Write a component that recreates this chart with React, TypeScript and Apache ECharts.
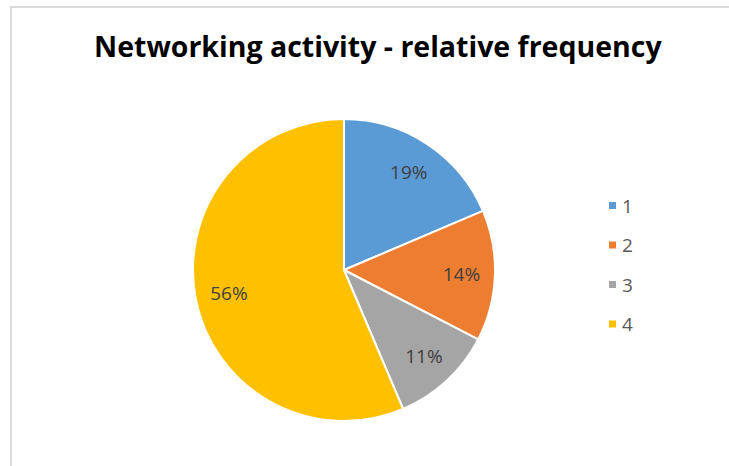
import React, { useEffect, useRef } from "react";
import * as echarts from "echarts";

const categories = ["1", "2", "3", "4"];
const shares = [18.6, 14.0, 11.0, 56.4];
const colors = ["#5B9BD5", "#ED7D31", "#A5A5A5", "#FFC000"];
const titleText = "Networking activity - relative frequency";

export default function App() {
  const ref = useRef<HTMLDivElement>(null);
  useEffect(() => {
    if (!ref.current) return;
    const chart = echarts.init(ref.current, null, { renderer: "svg" });
    const data = categories.map((c, i) => ({ name: c, value: shares[i] }));
    chart.setOption({
      animation: false,
      backgroundColor: "#ffffff",
      color: colors,
      title: {
        text: titleText,
        left: 89,
        top: 26,
        textStyle: {
          fontFamily: "Open Sans",
          fontWeight: "bold",
          fontSize: 28.5,
          color: "#000000",
        },
      },
      legend: {
        orient: "vertical",
        left: 602,
        top: 191,
        icon: "rect",
        itemWidth: 9,
        itemHeight: 9,
        itemGap: 20.5,
        data: categories,
        textStyle: {
          fontFamily: "Open Sans",
          fontSize: 19,
          color: "#595959",
          padding: [0, 0, 0, 0],
        },
      },
      graphic: [
        {
          type: "rect",
          shape: { x: 11, y: 7, width: 900, height: 600 },
          style: { fill: "none", stroke: "#d9d9d9", lineWidth: 2 },
          silent: true,
        },
      ],
      series: [
        {
          type: "pie",
          center: [344, 270],
          radius: [0, 151],
          startAngle: 90,
          clockwise: true,
          silent: true,
          label: { show: false },
          labelLine: { show: false },
          itemStyle: { borderColor: "#ffffff", borderWidth: 2 },
          data,
        },
        {
          type: "pie",
          center: [344, 270],
          radius: [78, 151],
          startAngle: 90,
          clockwise: true,
          silent: true,
          itemStyle: { color: "rgba(0,0,0,0)" },
          label: {
            show: true,
            position: "inside",
            fontFamily: "Open Sans",
            fontSize: 19,
            color: "#404040",
            formatter: (p: any) => Math.round(p.value) + "%",
          },
          labelLine: { show: false },
          data,
        },
      ],
    });
    return () => chart.dispose();
  }, []);
  return (
    <div
      ref={ref}
      style={{ position: "fixed", left: 0, top: 0, width: 729, height: 466 }}
    />
  );
}
